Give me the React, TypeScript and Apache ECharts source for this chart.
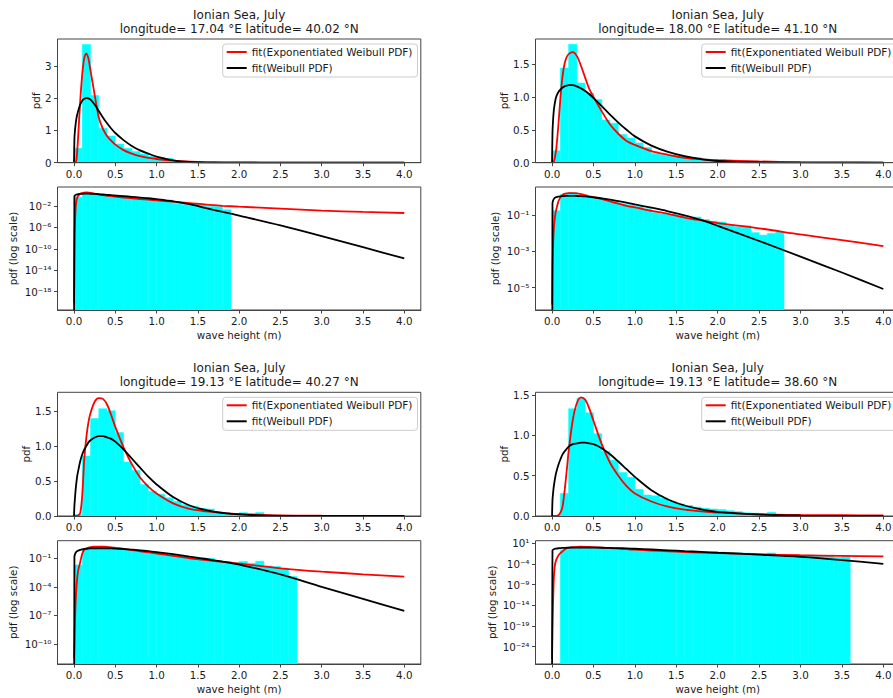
import React, { useEffect, useRef } from 'react';
import * as echarts from 'echarts';

// ---------- texts ----------
const TITLE_LINE = 'Ionian Sea, July';
const LOCATIONS = [
  'longitude= 17.04 °E latitude= 40.02 °N',
  'longitude= 18.00 °E latitude= 41.10 °N',
  'longitude= 19.13 °E latitude= 40.27 °N',
  'longitude= 19.13 °E latitude= 38.60 °N',
];
const EXPW_NAME = 'fit(Exponentiated Weibull PDF)';
const WEIB_NAME = 'fit(Weibull PDF)';
const X_NAME = 'wave height (m)';
const PDF_NAME = 'pdf';
const LOG_NAME = 'pdf (log scale)';

// ---------- data ----------
// wave height sample points of the fitted curves
const X_GRID = [0, 0.005, 0.01, 0.02, 0.03, 0.04, 0.05, 0.075, 0.1, 0.125, 0.15, 0.175, 0.2, 0.25, 0.3, 0.35, 0.4, 0.45, 0.5, 0.6, 0.7, 0.8, 0.9, 1.0, 1.2, 1.4, 1.6, 1.8, 2.0, 2.5, 3.0, 3.5, 4.0];

const EXPW_1 = [1e-20, 1e-12, 1e-6, 0.005, 0.1, 0.4, 0.8, 1.9, 2.75, 3.25, 3.38, 3.22, 2.85, 2.1, 1.4, 1.05, 0.83, 0.68, 0.56, 0.39, 0.28, 0.2, 0.15, 0.115, 0.065, 0.035, 0.018, 0.011, 0.0074, 0.0032, 0.0014, 8e-4, 5e-4];
const WEIB_1 = [1e-30, 0.75, 0.95, 1.2, 1.38, 1.5, 1.6, 1.8, 1.92, 1.98, 2.0, 1.99, 1.95, 1.8, 1.6, 1.4, 1.22, 1.06, 0.92, 0.7, 0.52, 0.38, 0.28, 0.19, 0.075, 0.022, 0.004, 8e-4, 1.6e-4, 2.5e-6, 2.5e-8, 2e-10, 1.6e-12];

const EXPW_2 = [1.2e-6, 1e-4, 1e-3, 0.015, 0.05, 0.12, 0.2, 0.55, 0.97, 1.3, 1.5, 1.6, 1.65, 1.68, 1.62, 1.47, 1.29, 1.12, 1.0, 0.78, 0.58, 0.44, 0.33, 0.27, 0.175, 0.12, 0.075, 0.052, 0.037, 0.019, 0.0087, 0.0042, 0.002];
const WEIB_2 = [1e-30, 0.45, 0.6, 0.78, 0.88, 0.95, 1.0, 1.07, 1.11, 1.14, 1.16, 1.17, 1.18, 1.18, 1.16, 1.13, 1.09, 1.04, 0.98, 0.86, 0.73, 0.61, 0.5, 0.4, 0.26, 0.165, 0.1, 0.055, 0.026, 0.0038, 5.2e-4, 6.9e-5, 8.5e-6];

const EXPW_3 = [3e-12, 1e-10, 1e-8, 3e-6, 1e-4, 0.001, 0.005, 0.04, 0.3, 0.82, 1.13, 1.34, 1.47, 1.63, 1.68, 1.67, 1.59, 1.44, 1.27, 0.98, 0.74, 0.55, 0.42, 0.32, 0.18, 0.1, 0.065, 0.042, 0.028, 0.009, 0.004, 0.0021, 0.0012];
const WEIB_3 = [1e-30, 0.15, 0.23, 0.38, 0.49, 0.58, 0.64, 0.78, 0.88, 0.95, 1.0, 1.05, 1.08, 1.12, 1.14, 1.14, 1.12, 1.1, 1.06, 0.95, 0.82, 0.69, 0.56, 0.45, 0.27, 0.15, 0.085, 0.045, 0.022, 0.002, 1e-4, 5.6e-6, 3e-7];

const EXPW_4 = [1e-27, 1e-20, 1e-15, 1e-8, 1e-5, 2e-4, 0.001, 0.01, 0.04, 0.11, 0.3, 0.54, 0.8, 1.19, 1.4, 1.47, 1.44, 1.33, 1.18, 0.89, 0.66, 0.5, 0.37, 0.28, 0.18, 0.115, 0.078, 0.057, 0.043, 0.022, 0.013, 0.009, 0.007];
const WEIB_4 = [1e-30, 0.2, 0.26, 0.36, 0.43, 0.49, 0.54, 0.63, 0.7, 0.76, 0.8, 0.83, 0.86, 0.89, 0.9, 0.91, 0.91, 0.9, 0.89, 0.84, 0.765, 0.675, 0.58, 0.485, 0.32, 0.205, 0.13, 0.083, 0.052, 0.018, 0.0055, 9e-4, 1e-4];

// histogram densities, bins of 0.1 m starting at 0
const BIN_WIDTH = 0.1;
const HIST_1 = [0.45, 3.66, 2.08, 1.07, 0.83, 0.58, 0.45, 0.35, 0.27, 0.2, 0.16, 0.13, 0.03, 0.02, 0.02, 0.02, 0.008, 0.008, 0.002];
const HIST_2 = [0.18, 1.44, 1.8, 1.21, 1.06, 0.96, 0.65, 0.6, 0.43, 0.375, 0.3, 0.23, 0.14, 0.12, 0.11, 0.1, 0.065, 0.08, 0.058, 0.047, 0.043, 0.028, 0.023, 0.026, 0.011, 0.008, 0.01, 0.012];
const HIST_3 = [0.02, 0.855, 1.39, 1.53, 1.5, 1.19, 0.77, 0.65, 0.45, 0.35, 0.31, 0.26, 0.21, 0.16, 0.14, 0.11, 0.1, 0.06, 0.045, 0.035, 0.047, 0.03, 0.05, 0.016, 0.014, 0.009, 0.0012];
const HIST_4 = [0, 0.28, 1.33, 1.46, 1.28, 1.02, 0.8, 0.69, 0.54, 0.48, 0.33, 0.26, 0.25, 0.22, 0.18, 0.15, 0.13, 0.11, 0.095, 0.087, 0.08, 0.066, 0.054, 0.04, 0.035, 0.03, 0.046, 0.02, 0.015, 0.012, 0.01, 0.008, 0.007, 0.01, 0.004, 0.006];

// ticks
const X_TICKS = [0, 0.5, 1, 1.5, 2, 2.5, 3, 3.5, 4];
const PDF_TICKS = [[0, 1, 2, 3], [0, 0.5, 1, 1.5], [0, 0.5, 1, 1.5], [0, 0.5, 1, 1.5]];
const PDF_DECIMALS = [0, 1, 1, 1];
const PDF_MAX = [3.83, 1.88, 1.764, 1.533];
const LOG_TICKS = [
  [1e-18, 1e-14, 1e-10, 1e-6, 1e-2],
  [1e-5, 1e-3, 1e-1],
  [1e-10, 1e-7, 1e-4, 1e-1],
  [1e-24, 1e-19, 1e-14, 1e-9, 1e-4, 1e1],
];
const LOG_EXP_RANGE = [[-21.42, 1.55], [-6.23, 0.56], [-12.1, 0.85], [-28.2, 1.63]];
const X_RANGE = [-0.2, 4.2];

const PANELS = [
  { expw: EXPW_1, weib: WEIB_1, hist: HIST_1 },
  { expw: EXPW_2, weib: WEIB_2, hist: HIST_2 },
  { expw: EXPW_3, weib: WEIB_3, hist: HIST_3 },
  { expw: EXPW_4, weib: WEIB_4, hist: HIST_4 },
];

// ---------- layout & style ----------
const FONT = 'DejaVu Sans';
const TEXT = '#1a1a1a';
const FRAME = '#444444';
const CYAN = '#00ffff';
const RED = '#ff0000';
const BLACK = '#000000';
const COL_LEFT = [57.5, 535.5];
const COL_WIDTH = [363.3, 364.4];
const ROW_TOP = [39, 187, 392.3, 540.7];
const ROW_HEIGHT = [123.7, 123, 123.7, 123.3];
const LEGEND_LEFT = [222.7, 701.7];
const PDF_NAME_GAP = [17, 27, 26, 27];
const LOG_NAME_GAP = [40, 36, 40, 39];

const SUP: Record<string, string> = { '-': '⁻', '0': '⁰', '1': '¹', '2': '²', '3': '³', '4': '⁴', '5': '⁵', '6': '⁶', '7': '⁷', '8': '⁸', '9': '⁹' };
const powLabel = (v: number) => {
  const e = Math.round(Math.log10(v));
  return '10' + String(e).split('').map((c) => SUP[c]).join('');
};

const labelStyle = { fontSize: 10.3, color: TEXT, fontFamily: FONT };

function buildOption() {
  const grid: any[] = [];
  const xAxis: any[] = [];
  const yAxis: any[] = [];
  const series: any[] = [];
  const title: any[] = [];
  const legend: any[] = [];

  PANELS.forEach((panel, p) => {
    const col = p % 2;
    const rowA = p < 2 ? 0 : 2;
    title.push({
      text: TITLE_LINE + '\n' + LOCATIONS[p],
      left: COL_LEFT[col] + COL_WIDTH[col] / 2,
      top: ROW_TOP[rowA] - 31.5,
      textAlign: 'center',
      padding: 0,
      textStyle: { fontSize: 12, fontWeight: 'normal', color: TEXT, fontFamily: FONT, lineHeight: 14 },
    });
    legend.push({
      orient: 'vertical',
      left: LEGEND_LEFT[col],
      top: ROW_TOP[rowA] + 5,
      data: [EXPW_NAME, WEIB_NAME],
      icon: 'rect',
      itemWidth: 20,
      itemHeight: 2,
      itemGap: 4,
      padding: [2, 5, 3, 4],
      backgroundColor: 'rgba(255,255,255,0.8)',
      borderColor: '#cccccc',
      borderWidth: 1,
      borderRadius: 3,
      selectedMode: false,
      textStyle: { ...labelStyle, fontSize: 10.5, lineHeight: 12 },
      z: 10,
    });

    [rowA, rowA + 1].forEach((row, k) => {
      const g = grid.length;
      const isLog = k === 1;
      grid.push({
        left: COL_LEFT[col], width: COL_WIDTH[col], top: ROW_TOP[row], height: ROW_HEIGHT[row],
        show: true, borderColor: FRAME, borderWidth: 1, backgroundColor: 'transparent',
        outerBoundsMode: 'none', containLabel: false,
      });
      xAxis.push({
        gridIndex: g, type: 'value', min: X_RANGE[0], max: X_RANGE[1], z: 5,
        axisLine: { show: true, onZero: false, lineStyle: { color: FRAME, width: 1 } },
        axisTick: { show: true, length: 3.5, customValues: X_TICKS, lineStyle: { color: FRAME } },
        axisLabel: { customValues: X_TICKS, formatter: (v: number) => v.toFixed(1), margin: 6, ...labelStyle },
        splitLine: { show: false },
        name: isLog ? X_NAME : '', nameLocation: 'middle', nameGap: 20,
        nameTextStyle: { ...labelStyle },
      });
      const base = isLog ? Math.pow(10, LOG_EXP_RANGE[p][0]) : 0;
      if (isLog) {
        yAxis.push({
          gridIndex: g, type: 'log', logBase: 10, position: 'left',
          min: Math.pow(10, LOG_EXP_RANGE[p][0]), max: Math.pow(10, LOG_EXP_RANGE[p][1]),
          axisLine: { show: false, onZero: false },
          axisTick: { show: true, length: 3.5, customValues: LOG_TICKS[p], lineStyle: { color: FRAME } },
          axisLabel: { customValues: LOG_TICKS[p], formatter: powLabel, margin: 6, ...labelStyle },
          splitLine: { show: false }, minorTick: { show: false },
          name: LOG_NAME, nameLocation: 'middle', nameGap: LOG_NAME_GAP[p],
          nameTextStyle: { ...labelStyle },
        });
      } else {
        yAxis.push({
          gridIndex: g, type: 'value', min: 0, max: PDF_MAX[p], position: 'left',
          axisLine: { show: false, onZero: false },
          axisTick: { show: true, length: 3.5, customValues: PDF_TICKS[p], lineStyle: { color: FRAME } },
          axisLabel: { customValues: PDF_TICKS[p], formatter: (v: number) => v.toFixed(PDF_DECIMALS[p]), margin: 6, ...labelStyle },
          splitLine: { show: false },
          name: PDF_NAME, nameLocation: 'middle', nameGap: PDF_NAME_GAP[p],
          nameTextStyle: { ...labelStyle },
        });
      }
      series.push({
        type: 'custom', name: 'histogram', xAxisIndex: g, yAxisIndex: g, clip: true, silent: true, z: 1,
        data: panel.hist.map((h, i) => [i * BIN_WIDTH, h, (i + 1) * BIN_WIDTH]).filter((d) => d[1] > 0),
        renderItem: (_params: any, api: any) => {
          const p0 = api.coord([api.value(0), api.value(1)]);
          const p1 = api.coord([api.value(2), base]);
          return {
            type: 'rect',
            shape: { x: p0[0], y: p0[1], width: p1[0] - p0[0], height: p1[1] - p0[1] },
            style: { fill: CYAN, stroke: CYAN, lineWidth: 0.5 },
          };
        },
      });
      series.push({
        type: 'line', name: EXPW_NAME, xAxisIndex: g, yAxisIndex: g, z: 3,
        data: X_GRID.map((x, i) => [x, panel.expw[i]]),
        showSymbol: false, symbol: 'none', smooth: 0.3, silent: true, clip: true,
        lineStyle: { color: RED, width: 1.8 }, itemStyle: { color: RED },
      });
      series.push({
        type: 'line', name: WEIB_NAME, xAxisIndex: g, yAxisIndex: g, z: 3,
        data: X_GRID.map((x, i) => [x, panel.weib[i]]),
        showSymbol: false, symbol: 'none', smooth: 0.3, silent: true, clip: true,
        lineStyle: { color: BLACK, width: 1.8 }, itemStyle: { color: BLACK },
      });
    });
  });

  return {
    animation: false,
    backgroundColor: '#ffffff',
    textStyle: { fontFamily: FONT },
    title, legend, grid, xAxis, yAxis, series,
  };
}

export default function App() {
  const ref = useRef<HTMLDivElement>(null);
  useEffect(() => {
    if (!ref.current) return;
    const chart = echarts.init(ref.current, undefined, { renderer: 'svg' });
    chart.setOption(buildOption() as any);
    return () => chart.dispose();
  }, []);
  return <div ref={ref} style={{ position: 'absolute', left: 0, top: 0, width: 893, height: 698 }} />;
}
